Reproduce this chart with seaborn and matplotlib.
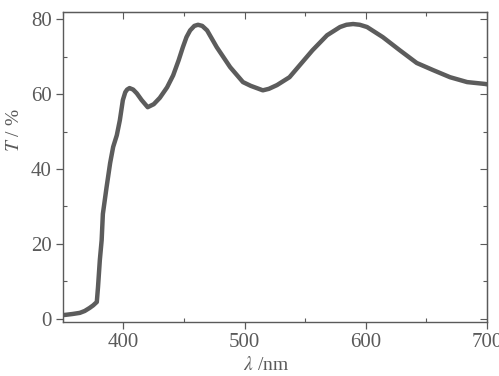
import numpy as np
import pandas as pd
import matplotlib
matplotlib.use("Agg")
import matplotlib.pyplot as plt
import seaborn as sns
from matplotlib.ticker import MultipleLocator

wavelength = [350, 353, 358, 364, 368, 372, 375, 378, 379, 380.5, 382, 383, 386, 389,
              391.5, 394.5, 397, 399.5, 401.5, 403, 405, 408, 411, 415, 420, 425,
              430, 436, 441, 445.5, 449, 452, 455, 458.5, 461.5, 465, 469, 477,
              488, 498.6, 505, 510, 515, 520, 526.7, 537, 545.7, 556, 568, 578.7,
              584, 589.5, 595, 601, 614, 628, 642, 655.5, 669.5, 683.6, 698.5, 700]
transmittance = [1.0, 1.1, 1.3, 1.6, 2.1, 2.9, 3.6, 4.5, 8.5, 15.7, 21.0, 28.0, 35.0,
                 41.6, 45.9, 49.0, 53.0, 58.4, 60.5, 61.2, 61.6, 61.2, 60.2, 58.4,
                 56.5, 57.3, 59.0, 61.8, 65.0, 69.0, 72.5, 75.2, 77.0, 78.2, 78.5,
                 78.2, 77.0, 72.5, 67.2, 63.2, 62.2, 61.6, 61.0, 61.4, 62.4, 64.5,
                 67.8, 71.7, 75.7, 77.9, 78.5, 78.7, 78.5, 77.9, 75.2, 71.7, 68.3,
                 66.4, 64.5, 63.2, 62.7, 62.6]

df = pd.DataFrame({"wl": wavelength, "T": transmittance})

sns.set_style("ticks")
plt.rcParams["font.family"] = ["Liberation Serif", "DejaVu Serif"]
plt.rcParams["mathtext.fontset"] = "stix"

grey = "#5a5a5a"
fig = plt.figure(figsize=(4.99, 3.76), dpi=100)
ax = fig.add_axes([0.126, 0.144, 0.85, 0.824])

sns.lineplot(data=df, x="wl", y="T", ax=ax, color="#5c5c5c", linewidth=3.2)

ax.set_xlim(350, 700)
ax.set_ylim(-0.8, 81.9)
ax.xaxis.set_major_locator(MultipleLocator(100))
ax.xaxis.set_minor_locator(MultipleLocator(50))
ax.yaxis.set_major_locator(MultipleLocator(20))
ax.yaxis.set_minor_locator(MultipleLocator(10))

ax.tick_params(which="major", direction="out", length=5, width=0.9, color=grey,
               labelsize=15, labelcolor=grey, pad=3)
ax.tick_params(which="minor", direction="in", length=3, width=0.8, color=grey)
for s in ax.spines.values():
    s.set_color(grey)
    s.set_linewidth(1.0)

# inward ticks on the top and right frame
top = ax.secondary_xaxis("top")
top.xaxis.set_major_locator(MultipleLocator(100))
top.xaxis.set_minor_locator(MultipleLocator(50))
top.tick_params(which="both", direction="in", labeltop=False, color=grey, width=0.8)
top.tick_params(which="major", length=5)
top.tick_params(which="minor", length=3)
top.spines["top"].set_color(grey)
right = ax.secondary_yaxis("right")
right.yaxis.set_major_locator(MultipleLocator(20))
right.yaxis.set_minor_locator(MultipleLocator(10))
right.tick_params(which="both", direction="in", labelright=False, color=grey, width=0.8)
right.tick_params(which="major", length=5)
right.tick_params(which="minor", length=3)
right.spines["right"].set_color(grey)

ax.set_xlabel(r"$\lambda$ /nm", fontsize=14, color=grey)
ax.set_ylabel(r"$T$ / %", fontsize=14, color=grey)
ax.xaxis.set_label_coords(0.479, -0.11)
ax.yaxis.set_label_coords(-0.095, 0.62)

fig.savefig("out.png", dpi=100)
